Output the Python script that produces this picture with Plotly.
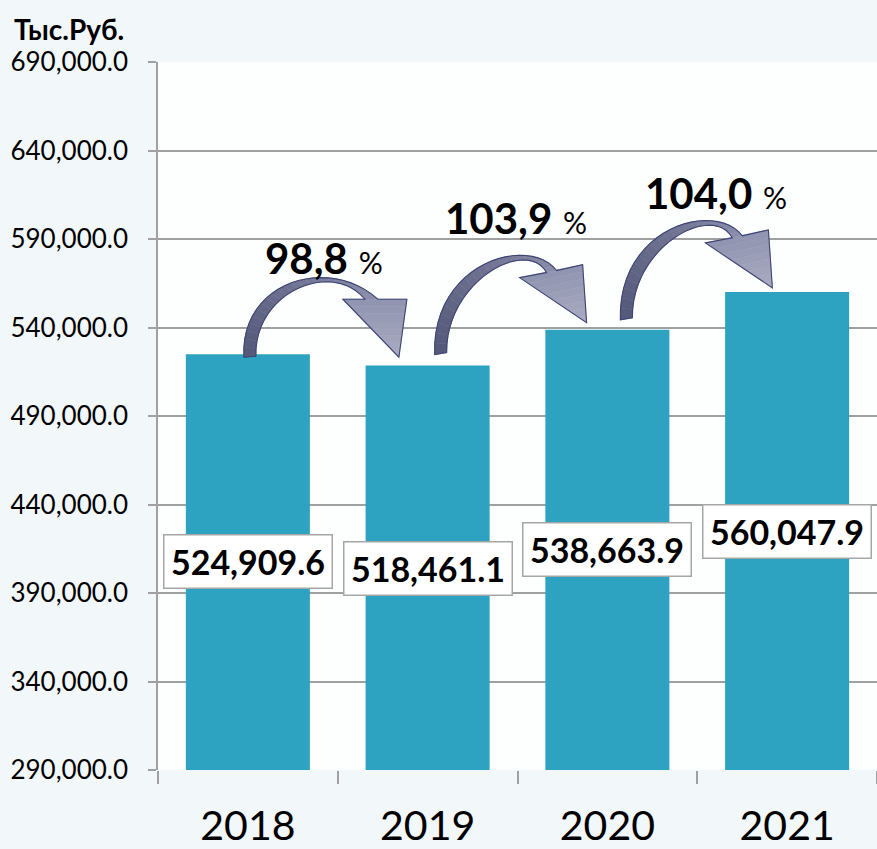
import plotly.graph_objects as go

# ---------------- data ----------------
years = ["2018", "2019", "2020", "2021"]
values = [524909.6, 518461.1, 538663.9, 560047.9]
y_tick_values = [290000, 340000, 390000, 440000, 490000, 540000, 590000, 640000, 690000]
unit_label = "Тыс.Руб."

# ---------------- layout constants ----------------
W, H = 877, 849
ML, MR, MT, MB = 158, 0, 62, 79
PW, PH = W - ML - MR, H - MT - MB
X_RANGE = [-0.5, 3.5]
Y_RANGE = [290000, 690000]
BAR_COLOR = "#2ea3c1"
FONT = "Lato"

# value-label vertical positions (axis units)
label_y = [407800, 404100, 414300, 425000]


def x_to_px(x):
    return ML + (x - X_RANGE[0]) / (X_RANGE[1] - X_RANGE[0]) * PW


def y_to_py(y):
    return MT + (Y_RANGE[1] - y) / (Y_RANGE[1] - Y_RANGE[0]) * PH


def px_to_x(px):
    return X_RANGE[0] + (px - ML) / PW * (X_RANGE[1] - X_RANGE[0])


def py_to_y(py):
    return Y_RANGE[1] - (py - MT) / PH * (Y_RANGE[1] - Y_RANGE[0])


def bez(p, t):
    a = (1 - t) ** 3
    b = 3 * t * (1 - t) ** 2
    c = 3 * t * t * (1 - t)
    d = t ** 3
    return (a * p[0][0] + b * p[1][0] + c * p[2][0] + d * p[3][0],
            a * p[0][1] + b * p[1][1] + c * p[2][1] + d * p[3][1])


def mix(c1, c2, f):
    r1, g1, b1 = int(c1[1:3], 16), int(c1[3:5], 16), int(c1[5:7], 16)
    r2, g2, b2 = int(c2[1:3], 16), int(c2[3:5], 16), int(c2[5:7], 16)
    return "rgb(%d,%d,%d)" % (r1 + (r2 - r1) * f, g1 + (g2 - g1) * f, b1 + (b2 - b1) * f)


# curved-arrow templates (pixel offsets from the tail point)
TEMPLATE_A = dict(
    outer=[(-6, 1), (-10, -76), (80, -101), (128, -57)],
    inner=[(6, 0), (4, -64), (82, -97), (115, -57)],
    hl=(93, -57), hr=(157, -57), tip=(149, 1))
TEMPLATE_B = dict(
    outer=[(-6, 1), (-9, -92), (89, -119), (116, -83)],
    inner=[(6, -1), (5, -72), (86, -117), (106, -81)],
    hl=(79, -76), hr=(142, -89), tip=(146, -31))
arrow_templates = [TEMPLATE_A, TEMPLATE_B, TEMPLATE_B]
tail_offsets = [(2, 2), (13, -12), (19, -11)]      # px from previous bar's top centre
pct_offsets = [(74, -98), (75, -136), (90, -126)]  # px from tail point

shapes = []
annotations = []


def pstr(pts):
    return "M " + " L ".join("%.5f,%.3f" % (px_to_x(px), py_to_y(py)) for px, py in pts) + " Z"


for i in range(len(values) - 1):
    tx = x_to_px(i) + tail_offsets[i][0]
    ty = y_to_py(values[i]) + tail_offsets[i][1]
    tpl = arrow_templates[i]
    outer = [(tx + dx, ty + dy) for dx, dy in tpl["outer"]]
    inner = [(tx + dx, ty + dy) for dx, dy in tpl["inner"]]
    hl = (tx + tpl["hl"][0], ty + tpl["hl"][1])
    hr = (tx + tpl["hr"][0], ty + tpl["hr"][1])
    tip = (tx + tpl["tip"][0], ty + tpl["tip"][1])
    N = 24
    o_pts = [bez(outer, k / N) for k in range(N + 1)]
    i_pts = [bez(inner, k / N) for k in range(N + 1)]
    for k in range(N):
        col = mix("#565a7a", "#8a8daa", k / (N - 1))
        shapes.append(dict(type="path", xref="x", yref="y",
                           path=pstr([o_pts[k], o_pts[k + 1], i_pts[k + 1], i_pts[k]]),
                           fillcolor=col, line=dict(color=col, width=0.6)))
    # head, in strips from base to tip
    M = 8
    for k in range(M):
        f0, f1 = k / M, (k + 1) / M
        a0 = (hl[0] + (tip[0] - hl[0]) * f0, hl[1] + (tip[1] - hl[1]) * f0)
        a1 = (hl[0] + (tip[0] - hl[0]) * f1, hl[1] + (tip[1] - hl[1]) * f1)
        b0 = (hr[0] + (tip[0] - hr[0]) * f0, hr[1] + (tip[1] - hr[1]) * f0)
        b1 = (hr[0] + (tip[0] - hr[0]) * f1, hr[1] + (tip[1] - hr[1]) * f1)
        col = mix("#9295b1", "#a7aac0", k / (M - 1))
        shapes.append(dict(type="path", xref="x", yref="y",
                           path=pstr([a0, b0, b1, a1]),
                           fillcolor=col, line=dict(color=col, width=0.6)))
    outline = o_pts + [hr, tip, hl] + i_pts[::-1]
    shapes.append(dict(type="path", xref="x", yref="y", path=pstr(outline),
                       fillcolor="rgba(0,0,0,0)", line=dict(color="#3e4476", width=1.1)))
    pct = "%.1f" % (values[i + 1] / values[i] * 100)
    pct = pct.replace(".", ",")
    annotations.append(dict(
        x=px_to_x(tx + pct_offsets[i][0]), y=py_to_y(ty + pct_offsets[i][1]),
        xref="x", yref="y", showarrow=False, xanchor="center", yanchor="middle",
        text="<b>%s</b> <span style='font-size:30px'>%%</span>" % pct,
        font=dict(family=FONT, size=42, color="#000000")))

for i, v in enumerate(values):
    annotations.append(dict(
        x=i, y=label_y[i], xref="x", yref="y", showarrow=False,
        text="<b>%s</b>" % f"{v:,.1f}",
        font=dict(family=FONT, size=34, color="#000000"),
        bgcolor="#ffffff", bordercolor="#a6a6a6", borderwidth=1.5,
        borderpad=3, width=161, height=46, xanchor="center", yanchor="middle"))

annotations.append(dict(
    x=(12 - ML) / PW, y=(H - MB - 29) / PH, xref="paper", yref="paper", showarrow=False,
    text="<b>%s</b>" % unit_label, xanchor="left", yanchor="middle",
    font=dict(family=FONT, size=28, color="#000000")))

fig = go.Figure(go.Bar(
    x=list(range(len(years))), y=values, width=0.69,
    marker=dict(color=BAR_COLOR, line=dict(width=0)),
    hoverinfo="skip"))

fig.update_layout(
    width=W, height=H,
    margin=dict(l=ML, r=MR, t=MT, b=MB, pad=0, autoexpand=False),
    paper_bgcolor="#f2f7f9",
    plot_bgcolor="rgba(255,255,255,0.8)",
    showlegend=False,
    shapes=shapes,
    annotations=annotations,
    font=dict(family=FONT, color="#000000"),
    xaxis=dict(
        range=X_RANGE, tickmode="array", tickvals=list(range(len(years))), ticktext=years,
        ticks="", showgrid=False, zeroline=False, showline=False, automargin=False,
        tickfont=dict(family=FONT, size=41, color="#000000"),
        ticklabelstandoff=28,
        minor=dict(tickmode="array", tickvals=[-0.5, 0.5, 1.5, 2.5, 3.5], ticks="outside",
                   ticklen=13, tickwidth=1.5, tickcolor="#a0a0a0", showgrid=False),
        fixedrange=True),
    yaxis=dict(
        range=Y_RANGE, tickmode="array", tickvals=y_tick_values, tickformat=",.1f",
        ticks="outside", ticklen=8, tickwidth=1.5, tickcolor="#a0a0a0",
        showgrid=True, gridcolor="#a0a0a0", gridwidth=1.5, automargin=False,
        showline=True, linecolor="#a0a0a0", linewidth=1.5, zeroline=False,
        tickfont=dict(family=FONT, size=26, color="#000000"),
        ticklabelstandoff=15,
        fixedrange=True),
)

fig.write_html(
    "out.html",
    config={"displayModeBar": False},
    post_script="document.body.style.margin='0';document.body.style.overflow='hidden';",
)
